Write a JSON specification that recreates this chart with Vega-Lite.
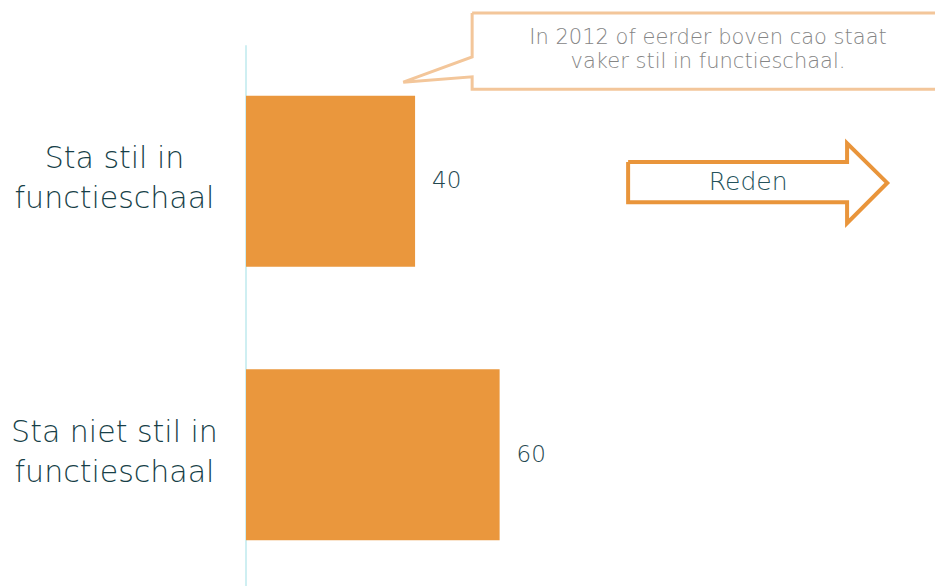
{
  "$schema": "https://vega.github.io/schema/vega-lite/v6.json",
  "autosize": "none",
  "padding": {"left": 246, "top": 50, "right": 0, "bottom": 0},
  "width": 689,
  "height": 536,
  "background": "white",
  "config": {"view": {"stroke": null}, "font": "DejaVu Sans"},
  "datasets": {
    "bars": [
      {"cat": "Sta stil in|functieschaal", "value": 40},
      {"cat": "Sta niet stil in|functieschaal", "value": 60}
    ],
    "bubble": [
      {"i": 1, "x": 53.5, "y": 106.9},
      {"i": 2, "x": 165, "y": 106.9},
      {"i": 3, "x": 165, "y": 92.7},
      {"i": 4, "x": 53.5, "y": 92.7},
      {"i": 5, "x": 53.5, "y": 95.0},
      {"i": 6, "x": 37.2, "y": 94.0},
      {"i": 7, "x": 53.5, "y": 98.7},
      {"i": 8, "x": 53.5, "y": 106.9}
    ],
    "arrow": [
      {"i": 1, "x": 90.4, "y": 79.1},
      {"i": 2, "x": 142.2, "y": 79.1},
      {"i": 3, "x": 142.2, "y": 82.6},
      {"i": 4, "x": 151.7, "y": 75.2},
      {"i": 5, "x": 142.2, "y": 67.7},
      {"i": 6, "x": 142.2, "y": 71.6},
      {"i": 7, "x": 90.4, "y": 71.6},
      {"i": 8, "x": 90.4, "y": 79.1}
    ],
    "notes": [
      {"x": 109.3, "y": 102.2, "t": "In 2012 of eerder boven cao staat|vaker stil in functieschaal."}
    ],
    "reden": [
      {"x": 118.8, "y": 75.4, "t": "Reden"}
    ],
    "axisline": [
      {"x": 0, "y": 0, "y2": 100.9}
    ]
  },
  "resolve": {"scale": {"y": "independent"}, "axis": {"y": "independent"}},
  "layer": [
    {
      "data": {"name": "axisline"},
      "mark": {"type": "rule", "stroke": "#CFEFF2", "strokeWidth": 2},
      "encoding": {
        "x": {"field": "x", "type": "quantitative", "scale": {"domain": [0, 163]}, "axis": null},
        "y": {"field": "y", "type": "quantitative", "scale": {"domain": [0, 100]}, "axis": null},
        "y2": {"field": "y2"}
      }
    },
    {
      "data": {"name": "bars"},
      "encoding": {
        "y": {
          "field": "cat",
          "type": "nominal",
          "sort": null,
          "scale": {"paddingInner": 0.3748, "paddingOuter": 0.1673},
          "axis": {
            "title": null,
            "domain": false,
            "ticks": false,
            "labelExpr": "split(datum.label, '|')",
            "labelAlign": "center",
            "labelBaseline": "middle",
            "labelOffset": -22,
            "labelPadding": 132,
            "labelFontSize": 30,
            "labelFont": "DejaVu Sans",
            "labelFontWeight": 200,
            "labelLineHeight": 40,
            "labelColor": "#173F48",
            "labelLimit": 400
          }
        },
        "x": {"field": "value", "type": "quantitative", "scale": {"domain": [0, 163]}, "axis": null}
      },
      "layer": [
        {"mark": {"type": "bar", "color": "#EA973D"}},
        {
          "mark": {"type": "text", "align": "left", "baseline": "middle", "dx": 17, "fontSize": 23, "fontWeight": 200, "color": "#24474F"},
          "encoding": {"text": {"field": "value", "type": "quantitative"}}
        }
      ]
    },
    {
      "data": {"name": "bubble"},
      "mark": {"type": "line", "stroke": "#F3C69A", "strokeWidth": 3, "clip": false, "strokeJoin": "miter"},
      "encoding": {
        "x": {"field": "x", "type": "quantitative", "scale": {"domain": [0, 163]}, "axis": null},
        "y": {"field": "y", "type": "quantitative", "scale": {"domain": [0, 100]}, "axis": null},
        "order": {"field": "i", "type": "quantitative"}
      }
    },
    {
      "data": {"name": "arrow"},
      "mark": {"type": "line", "stroke": "#E9953B", "strokeWidth": 4, "clip": false, "strokeJoin": "miter"},
      "encoding": {
        "x": {"field": "x", "type": "quantitative", "scale": {"domain": [0, 163]}, "axis": null},
        "y": {"field": "y", "type": "quantitative", "scale": {"domain": [0, 100]}, "axis": null},
        "order": {"field": "i", "type": "quantitative"}
      }
    },
    {
      "data": {"name": "notes"},
      "mark": {"type": "text", "align": "center", "baseline": "middle", "fontSize": 21, "fontWeight": 200, "color": "#858585", "lineBreak": "|", "lineHeight": 24},
      "encoding": {
        "x": {"field": "x", "type": "quantitative", "scale": {"domain": [0, 163]}, "axis": null},
        "y": {"field": "y", "type": "quantitative", "scale": {"domain": [0, 100]}, "axis": null},
        "text": {"field": "t"}
      }
    },
    {
      "data": {"name": "reden"},
      "mark": {"type": "text", "align": "center", "baseline": "middle", "fontSize": 25, "fontWeight": 200, "color": "#24525B"},
      "encoding": {
        "x": {"field": "x", "type": "quantitative", "scale": {"domain": [0, 163]}, "axis": null},
        "y": {"field": "y", "type": "quantitative", "scale": {"domain": [0, 100]}, "axis": null},
        "text": {"field": "t"}
      }
    }
  ]
}
